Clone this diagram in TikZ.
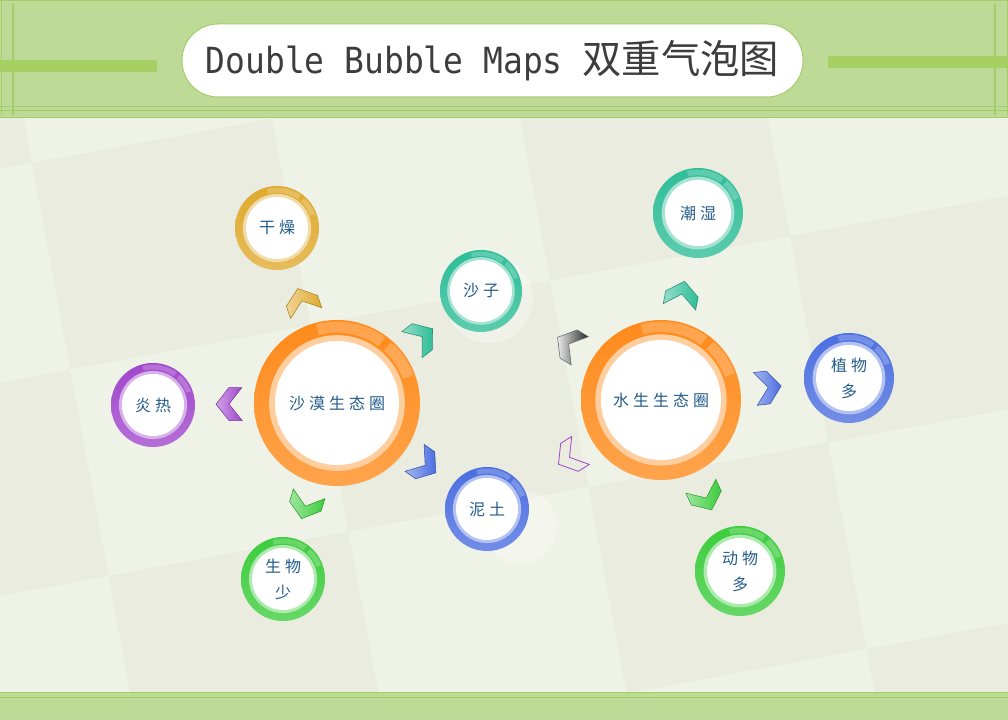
\documentclass[tikz,border=0pt]{standalone}
\usepackage{fontspec}
\usetikzlibrary{calc}
\newfontfamily\cjk[LetterSpace=25]{Noto Sans CJK SC}
\newfontfamily\cjkt{Noto Sans CJK SC}
\newfontfamily\ttl[FakeStretch=0.915]{DejaVu Sans Mono}
\definecolor{bgdark}{HTML}{E9ECDF}
\definecolor{bglight}{HTML}{EFF2E6}
\definecolor{band}{HTML}{BDDB96}
\definecolor{bandline}{HTML}{A3CD68}
\definecolor{bar}{HTML}{A6D063}
\definecolor{corange}{HTML}{FF8A1A}
\definecolor{cyellow}{HTML}{DFA92D}
\definecolor{cteal}{HTML}{2EBD97}
\definecolor{cpurple}{HTML}{A046CC}
\definecolor{cblue}{HTML}{4B6EE0}
\definecolor{cgreen}{HTML}{3CCC3C}
\definecolor{lblue}{HTML}{245C8C}
\definecolor{tgray}{HTML}{3D3D3D}
\tikzset{
  lbl/.style={font=\cjk\fontsize{12}{19.5}\selectfont, text=lblue, align=center, inner sep=0pt},
  chevf/.style={draw=#1!75!black, line width=.4pt, left color=#1!50!white, right color=#1},
  chevgray/.style={draw=black!60, line width=.4pt, left color=black!8, right color=black!85},
  chevline/.style={draw=cpurple, line width=.6pt},
  pics/chev/.style={code={\path[#1] (13,0) -- (0,16.5) -- (-13,16.5) -- (0,0) -- (-13,-16.5) -- (0,-16.5) -- cycle;}}
}
\newcommand\bubble[7]{%
  \pgfmathsetmacro\bR{#4}\pgfmathsetmacro\br{#5}%
  \pgfmathsetmacro\bb{#5+0.28*(#4-#5)}%
  \pgfmathsetmacro\bo{#4-1.5}\pgfmathsetmacro\bi{#5+0.4*(#4-#5)}%
  \shade[top color=#6, bottom color=#6!78!white] (#2,#3) circle[radius=\bR];
  \fill[#6!42!white] (#2,#3) circle[radius=\bb];
  \fill[white] (#2,#3) circle[radius=\br];
  \fill[white,opacity=.22] ($(#2,#3)+(-20:\bo)$) arc[start angle=-20,end angle=-48,radius=\bo] -- ($(#2,#3)+(-48:\bi)$) arc[start angle=-48,end angle=-20,radius=\bi] -- cycle;
  \fill[white,opacity=.22] ($(#2,#3)+(-54:\bo)$) arc[start angle=-54,end angle=-105,radius=\bo] -- ($(#2,#3)+(-105:\bi)$) arc[start angle=-105,end angle=-54,radius=\bi] -- cycle;
  \node[lbl] (#1) at (#2,#3) {#7};
}
\newcommand\chevron[3]{%
  \path let \p1=($(#2)-(#1)$), \n1={atan2(\y1,\x1)} in
    ($(#1)!81pt!(#2)$) pic[rotate=\n1]{chev={#3}};
}
\begin{document}
\begin{tikzpicture}[x=0.75pt,y=-0.75pt]
\useasboundingbox (0,0) rectangle (1008,720);
% background
\fill[bglight] (0,0) rectangle (1008,720);
\begin{scope}
  \clip (0,118) rectangle (1008,692);
  \begin{scope}[shift={(32,163)}, rotate=10.5]
    \foreach \i in {-2,...,4}{
      \foreach \j in {-2,...,3}{
        \pgfmathtruncatemacro\k{mod(\i+\j+20,2)}
        \ifnum\k=0
          \fill[bgdark] (\i*244,\j*210) rectangle ++(244,210);
        \fi
      }
    }
  \end{scope}
\end{scope}
\fill[white,opacity=.35] (489,299) circle[radius=44];
\fill[white,opacity=.35] (520,527) circle[radius=37];
% top band
\fill[band] (0,0) rectangle (1008,118);
\draw[bandline, line width=.8pt] (0,117.5) -- (1008,117.5);
\draw[bandline, line width=.75pt] (0,107) -- (1008,107) (0,110.5) -- (1008,110.5);
\draw[bandline, line width=.75pt] (0,1) -- (1008,1) (1,0) -- (1,115) (1007,0) -- (1007,115);
\draw[bandline, line width=1pt] (13,4) -- (13,115) (995,4) -- (995,115);
\fill[bar] (0,60) rectangle (157,72);
\fill[bar] (828,56) rectangle (1008,68);
\node[draw=bandline, line width=.75pt, fill=white, rounded corners=27pt,
      minimum width=465.75pt, minimum height=54.75pt, text=tgray, inner sep=0pt]
  (title) at (492.5,60.5)
  {{\ttl\fontsize{27}{30}\selectfont Double Bubble Maps }{\cjkt\fontsize{29.5}{30}\selectfont 双重气泡图}};
% bottom band
\fill[band] (0,692) rectangle (1008,720);
\draw[bandline, line width=.8pt] (0,692.5) -- (1008,692.5);
\draw[bandline, line width=.75pt] (0,697) -- (1008,697);
% bubbles
\bubble{dry}{277}{228}{42}{31}{cyellow}{干燥}
\bubble{sand}{481}{291}{41}{31}{cteal}{沙子}
\bubble{hot}{153}{405}{42}{31}{cpurple}{炎热}
\bubble{mud}{487}{509}{42}{31}{cblue}{泥土}
\bubble{few}{283}{579}{42}{31}{cgreen}{生物\\少}
\bubble{wet}{698}{213}{45}{33}{cteal}{潮湿}
\bubble{plants}{849}{378}{45}{33}{cblue}{植物\\多}
\bubble{animals}{740}{571}{45}{33}{cgreen}{动物\\多}
\bubble{desert}{337}{403}{83}{62}{corange}{沙漠生态圈}
\bubble{water}{661}{400}{80}{60}{corange}{水生生态圈}
% chevrons
\chevron{desert}{dry}{chevf=cyellow}
\chevron{desert}{sand}{chevf=cteal}
\chevron{desert}{hot}{chevf=cpurple}
\chevron{desert}{mud}{chevf=cblue}
\chevron{desert}{few}{chevf=cgreen}
\chevron{water}{sand}{chevgray}
\chevron{water}{mud}{chevline}
\chevron{water}{wet}{chevf=cteal}
\chevron{water}{plants}{chevf=cblue}
\chevron{water}{animals}{chevf=cgreen}
\end{tikzpicture}
\end{document}
